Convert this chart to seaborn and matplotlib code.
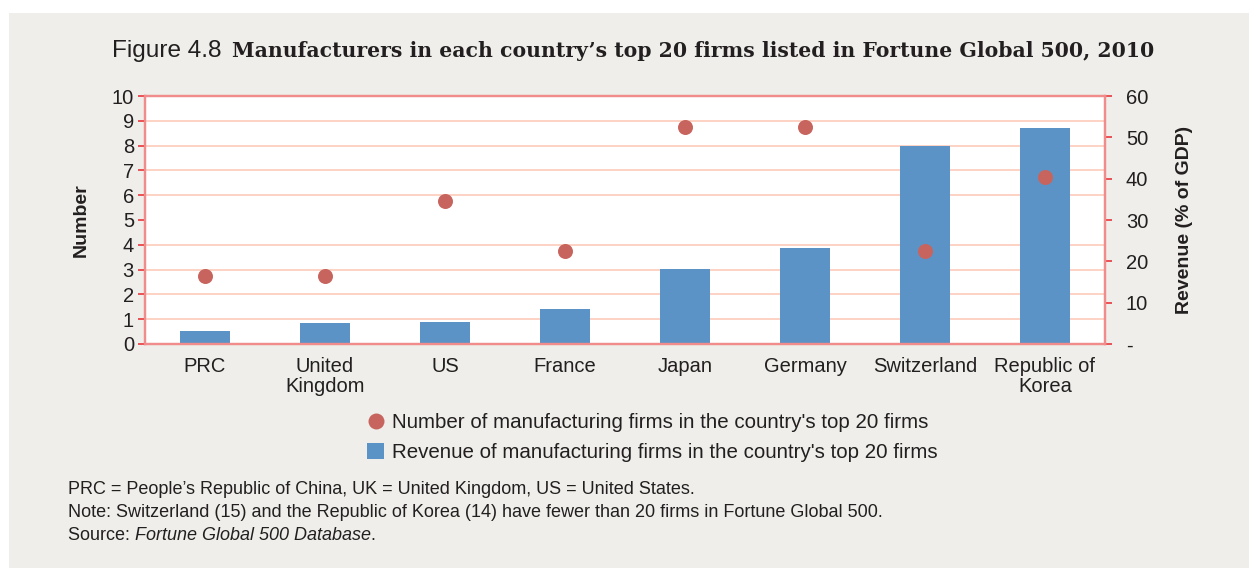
import numpy as np
import pandas as pd
import matplotlib
matplotlib.use("Agg")
import matplotlib.pyplot as plt
from matplotlib.patches import Rectangle, Patch
from matplotlib.lines import Line2D
from matplotlib.ticker import MultipleLocator
import seaborn as sns

countries = ["PRC", "United\nKingdom", "US", "France", "Japan", "Germany",
             "Switzerland", "Republic of\nKorea"]
number_firms = [2.75, 2.75, 5.75, 3.75, 8.75, 8.75, 3.75, 6.75]
revenue_gdp = [3.2, 5.1, 5.3, 8.5, 18.1, 23.2, 47.9, 52.3]
left_ticks = list(range(0, 11))
right_ticks = [0, 10, 20, 30, 40, 50, 60]
right_labels = ["-", "10", "20", "30", "40", "50", "60"]

BAR = "#5b93c6"
DOT = "#c8645e"
SPINE = "#f08c8c"
GRID = "#fccfbf"
TICK = "#e8383d"
BG = "#efeeea"
TXT = "#231f20"

sns.set_theme(style="white")
FONT = ["Liberation Sans", "DejaVu Sans"]
plt.rcParams["font.family"] = FONT

df = pd.DataFrame({"country": countries, "number": number_firms,
                   "revenue": revenue_gdp})

W, H = 1249, 568
fig = plt.figure(figsize=(W / 100, H / 100), dpi=100, facecolor="white")
fig.patches.append(Rectangle((9 / W, 0), 1 - 9 / W, 1 - 13 / H,
                             transform=fig.transFigure, facecolor=BG,
                             edgecolor="none", zorder=-10))

ax = fig.add_axes([145 / W, 1 - 344 / H, (1105 - 145) / W, (344 - 96) / H])
ax.set_facecolor("white")

# revenue bars on the primary (right-scale) axis
sns.barplot(data=df, x="country", y="revenue", ax=ax, color=BAR,
            saturation=1, width=0.41, edgecolor="none", zorder=2)
ax.set_ylim(0, 60)
ax.set_xlim(-0.5, len(countries) - 0.5)

# number of firms dots on the twin (left-scale) axis
ax2 = ax.twinx()
sns.stripplot(data=df, x="country", y="number", ax=ax2, jitter=False,
              color=DOT, size=10.8, linewidth=0, zorder=3)
ax2.set_ylim(0, 10)
ax2.set_xlim(-0.5, len(countries) - 0.5)

# primary axis: right side
ax.yaxis.tick_right()
ax.yaxis.set_label_position("right")
ax.set_yticks(right_ticks)
ax.set_yticklabels(right_labels)
ax.yaxis.set_minor_locator(MultipleLocator(6))
ax.grid(False)
ax.grid(True, which="minor", axis="y", color=GRID, linewidth=1.3, zorder=0)
ax.set_axisbelow(True)
ax.tick_params(axis="y", which="major", direction="out", length=5, width=1.2,
               color=TICK, labelsize=14.5, labelcolor=TXT, pad=10,
               left=False, labelleft=False, right=True, labelright=True)
ax.tick_params(axis="y", which="minor", length=0, left=False, right=False)
ax.set_ylabel("Revenue (% of GDP)", fontsize=14, fontweight="bold",
              color=TXT, labelpad=20)
ax.set_xlabel("")
ax.set_xticks(np.arange(-0.5, len(countries), 1), minor=True)
ax.tick_params(axis="x", which="major", length=0, labelsize=14.5,
               labelcolor=TXT, pad=9)
ax.tick_params(axis="x", which="minor", direction="out", length=2.5,
               width=1.5, color="#8c8c8c")
for lab in ax.get_xticklabels():
    lab.set_linespacing(1.12)
    lab.set_verticalalignment("top")

# twin axis: left side
ax2.yaxis.tick_left()
ax2.yaxis.set_label_position("left")
ax2.set_yticks(left_ticks)
ax2.tick_params(axis="y", direction="out", length=5, width=1.2, color=TICK,
                labelsize=14.5, labelcolor=TXT, pad=3,
                right=False, labelright=False, left=True, labelleft=True)
ax2.set_ylabel("Number", fontsize=14, fontweight="bold", color=TXT,
               labelpad=16)
ax2.set_xlabel("")
ax2.tick_params(axis="x", which="both", length=0, labelbottom=False)

for a in (ax, ax2):
    for s in a.spines.values():
        s.set_color(SPINE)
        s.set_linewidth(1.6)
        s.set_visible(True)

# legend
handles = [Line2D([], [], marker="o", linestyle="none", markersize=11.5,
                  markerfacecolor=DOT, markeredgecolor="none"),
           Patch(facecolor=BAR, edgecolor="none")]
labels = ["Number of manufacturing firms in the country's top 20 firms",
          "Revenue of manufacturing firms in the country's top 20 firms"]
fig.legend(handles, labels, loc="upper left",
           bbox_to_anchor=(353 / W, 1 - 399 / H), frameon=False,
           fontsize=14.8, handlelength=0.8, handleheight=0.8,
           handletextpad=0.42, labelspacing=0.52, borderpad=0.2,
           labelcolor=TXT)

fig.canvas.draw()
r = fig.canvas.get_renderer()


def fit_text(x0, x1, y, s, size, **kw):
    t = fig.text(x0 / W, 1 - y / H, s, fontsize=size, va="baseline",
                 ha="left", color=TXT, **kw)
    fig.canvas.draw()
    bb = t.get_window_extent(r)
    t.set_fontsize(size * (x1 - x0) / bb.width)
    fig.canvas.draw()
    return t, t.get_fontsize()


# title
fit_text(112, 222, 57, "Figure 4.8", 17)
fit_text(232, 1152, 57,
         "Manufacturers in each country\u2019s top 20 firms listed in Fortune Global 500, 2010",
         15.5, fontweight="bold", family=["DejaVu Serif"])

# footnotes
_, fs = fit_text(68, 884, 517,
                 "Note: Switzerland (15) and the Republic of Korea (14) have fewer than 20 firms in Fortune Global 500.",
                 12)
fig.text(68 / W, 1 - 494 / H,
         "PRC = People\u2019s Republic of China, UK = United Kingdom, US = United States.",
         fontsize=fs, color=TXT, va="baseline")
s1 = fig.text(68 / W, 1 - 540 / H, "Source: ", fontsize=fs, color=TXT,
              va="baseline")
fig.canvas.draw()
b1 = s1.get_window_extent(r)
s2 = fig.text(b1.x1 / W, 1 - 540 / H, "Fortune Global 500 Database",
              fontsize=fs, color=TXT, va="baseline", style="italic")
fig.canvas.draw()
b2 = s2.get_window_extent(r)
fig.text(b2.x1 / W, 1 - 540 / H, ".", fontsize=fs, color=TXT,
         va="baseline")

fig.savefig("out.png", dpi=100, facecolor="white")
